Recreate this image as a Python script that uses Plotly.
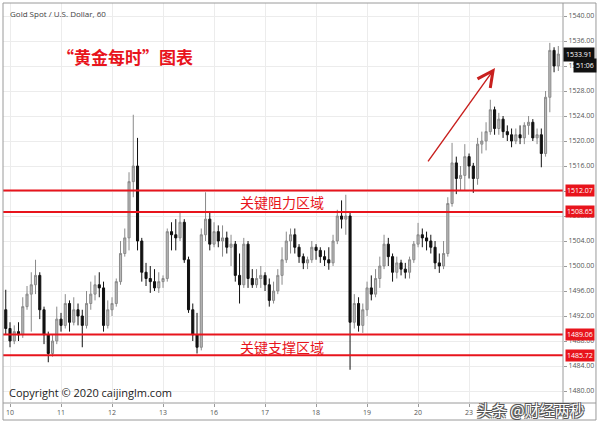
import plotly.graph_objects as go

# 2-hour bars, index 0 = start of day "10"
bar_start = -1
opens = [1493, 1490, 1488, 1489.5, 1489, 1493.5, 1495.5, 1497, 1498.5, 1493, 1489,
         1486, 1488, 1491.5, 1490.5, 1494, 1491, 1493, 1492, 1490.5, 1494, 1495.5,
         1497, 1496.5, 1490.5, 1493, 1494, 1497.5, 1502, 1504.5, 1513.5, 1516, 1504,
         1499, 1498, 1497.5, 1496.5, 1497.5, 1498, 1505.5, 1505, 1504.5, 1507, 1501,
         1493, 1489, 1487, 1505, 1507.5, 1503.5, 1505.5, 1504, 1504.5, 1503, 1503.5,
         1498.5, 1497, 1503.5, 1498, 1497, 1498, 1498.5, 1497, 1494.5, 1496, 1498.5,
         1501, 1504, 1505, 1503, 1501.5, 1500.5, 1501, 1503, 1502.5, 1501.5, 1501,
         1500.5, 1504, 1508, 1507.5, 1508, 1491, 1494, 1490.5, 1493, 1496.5, 1495.5,
         1498, 1500, 1503.5, 1501.5, 1499, 1500.5, 1499.5, 1499, 1501, 1503.5, 1505,
         1504.5, 1504, 1503, 1500.5, 1500, 1502, 1510, 1516.5, 1514, 1514.5, 1517.5,
         1516, 1514, 1519.5, 1520, 1521.5, 1525, 1522, 1523.5, 1521.5, 1521, 1520,
         1521, 1520.5, 1522.5, 1523, 1520.5, 1521, 1518, 1527, 1534.5, 1532]
closes = [1490, 1488, 1489.5, 1489, 1493.5, 1495.5, 1497, 1498.5, 1493, 1489, 1486,
          1488, 1491.5, 1490.5, 1494, 1491, 1493, 1492, 1490.5, 1494, 1495.5, 1497,
          1496.5, 1490.5, 1493, 1494, 1497.5, 1502, 1504.5, 1513.5, 1516, 1504, 1499,
          1498, 1497.5, 1496.5, 1497.5, 1498, 1505.5, 1505, 1504.5, 1507, 1501, 1493,
          1489, 1487, 1505, 1507.5, 1503.5, 1505.5, 1504, 1504.5, 1503, 1503.5, 1498.5,
          1497, 1503.5, 1498, 1497, 1498, 1498.5, 1497, 1494.5, 1496, 1498.5, 1501,
          1504, 1505, 1503, 1501.5, 1500.5, 1501, 1503, 1502.5, 1501.5, 1501, 1500.5,
          1504, 1508, 1507.5, 1508, 1491, 1494, 1490.5, 1493, 1496.5, 1495.5, 1498,
          1500, 1503.5, 1501.5, 1499, 1500.5, 1499.5, 1499, 1501, 1503.5, 1505, 1504.5,
          1504, 1503, 1500.5, 1500, 1502, 1510, 1516.5, 1514, 1514.5, 1517.5, 1516,
          1514, 1519.5, 1520, 1521.5, 1525, 1522, 1523.5, 1521.5, 1521, 1520, 1521,
          1520.5, 1522.5, 1523, 1520.5, 1521, 1518, 1527, 1534.5, 1532, 1533.91]
highs = [1496.2, 1491, 1490.5, 1491, 1495, 1496.8, 1499, 1501, 1499, 1493.5, 1489.5,
         1489, 1493.5, 1492.5, 1495.5, 1494.5, 1495, 1494, 1493, 1496, 1497.5, 1498.5,
         1499, 1497.5, 1494.5, 1495, 1498, 1504, 1506, 1515, 1524.2, 1520.5, 1504.5,
         1500.5, 1500, 1499.5, 1499, 1498.5, 1506, 1507, 1507.5, 1508.6, 1507.5, 1501.5,
         1494, 1492.5, 1506, 1511.8, 1508.5, 1507, 1506.5, 1506.5, 1505.5, 1505, 1504,
         1502, 1504.5, 1504, 1499.5, 1499.5, 1500, 1499, 1498, 1497.5, 1499.5, 1503,
         1505.5, 1506, 1506, 1503.5, 1502, 1501.5, 1504, 1503.5, 1503, 1502.5, 1503,
         1505, 1509, 1510.5, 1511.4, 1508.5, 1495.5, 1495, 1494, 1497.5, 1498.5, 1499.5,
         1501.5, 1505, 1504.5, 1502, 1501.5, 1501, 1500.5, 1501.5, 1504, 1506.9, 1506,
         1505.5, 1505, 1504, 1502, 1504, 1511, 1519.7, 1517.5, 1516, 1519.5, 1518,
         1516.5, 1520.5, 1521.5, 1523, 1526.6, 1525.5, 1524.5, 1524, 1522.5, 1522, 1522,
         1522.5, 1523, 1524, 1523.5, 1522, 1522, 1528, 1535.7, 1535, 1535.2]
lows = [1489, 1487, 1487.5, 1488, 1488.5, 1493, 1489.5, 1495.5, 1491.5, 1487.5, 1484.6,
        1485.5, 1487.5, 1489.5, 1490, 1489.5, 1490.5, 1490.5, 1487, 1490, 1493, 1494.5,
        1495, 1489.5, 1490, 1492, 1493.5, 1497, 1501.5, 1502.5, 1511, 1502.5, 1497.5,
        1496.8, 1495.7, 1496, 1495.7, 1496.5, 1497.5, 1502.5, 1502.5, 1504, 1500.5,
        1492.5, 1488, 1486, 1486.5, 1504, 1502.5, 1503, 1503, 1501.5, 1502, 1500,
        1497.5, 1494, 1496.5, 1496.5, 1496.5, 1496.5, 1496.5, 1496, 1493.5, 1494,
        1495.5, 1497, 1500.5, 1502, 1502, 1500.5, 1499.5, 1499.5, 1500.5, 1501, 1500.5,
        1500, 1499.4, 1500, 1503.5, 1506, 1505, 1483.4, 1490, 1489.5, 1489.3, 1492,
        1494.5, 1495, 1496.5, 1499.5, 1500, 1497.5, 1498, 1498.5, 1498, 1498, 1500.5,
        1503, 1503, 1502.5, 1502, 1499.5, 1498.9, 1499.5, 1501.5, 1509.5, 1511.5, 1512,
        1512, 1514, 1511.7, 1513, 1518, 1518.5, 1521, 1521, 1521, 1520.5, 1520, 1519,
        1519.5, 1519.5, 1519.5, 1521, 1520, 1519.5, 1515.8, 1517.5, 1524.6, 1531, 1531.2]
bars = list(range(bar_start, bar_start + len(closes)))

day_labels = ["10", "11", "12", "13", "16", "17", "18", "19", "20", "23"]
bars_per_day = 12
price_ticks = list(range(1480, 1541, 4))

resistance = [1512.07, 1508.65]
support = [1489.06, 1485.72]
last_price = 1533.91
countdown = "51:06"

RED = "#e8141c"

fig = go.Figure()
fig.add_trace(go.Candlestick(
    x=bars, open=opens, high=highs, low=lows, close=closes,
    increasing=dict(line=dict(color="#8a8a8a", width=1), fillcolor="#b8b8b8"),
    decreasing=dict(line=dict(color="#111111", width=1), fillcolor="#111111"),
    whiskerwidth=0, showlegend=False, hoverinfo="skip"
))

# key levels
for lvl in resistance + support:
    fig.add_hline(y=lvl, line_color=RED, line_width=2)
    fig.add_annotation(x=1.004, xref="paper", y=lvl, yref="y", text=f"{lvl:.2f}",
                       showarrow=False, xanchor="left", yanchor="middle",
                       bgcolor=RED, borderpad=1,
                       font=dict(family="Open Sans", size=7, color="white"))

fig.add_annotation(x=1.0, xref="paper", y=last_price, yref="y", text=f"{last_price:.2f}",
                   showarrow=False, xanchor="left", yanchor="middle",
                   bgcolor="#111111", borderpad=2,
                   font=dict(family="Open Sans", size=7, color="white"))
fig.add_annotation(x=1.018, xref="paper", y=last_price - 1.75, yref="y", text=countdown,
                   showarrow=False, xanchor="left", yanchor="middle",
                   bgcolor="#111111", borderpad=2,
                   font=dict(family="Open Sans", size=7, color="white"))

# trend arrow
fig.add_annotation(x=114.1, y=1531.7, ax=98.1, ay=1516.5, xref="x", yref="y",
                   axref="x", ayref="y", text="", showarrow=True,
                   arrowhead=5, arrowsize=2.2, arrowwidth=1.4, arrowcolor="#c8201e")

# texts
fig.add_annotation(x=0.009, y=0.975, xref="paper", yref="paper",
                   text="Gold Spot / U.S. Dollar, 60", showarrow=False,
                   xanchor="left", yanchor="middle",
                   font=dict(family="Open Sans", size=8, color="#444444"))
fig.add_annotation(x=0.218, y=0.867, xref="paper", yref="paper",
                   text="“黄金每时”图表", showarrow=False,
                   xanchor="center", yanchor="middle",
                   font=dict(family="Noto Sans CJK SC", size=17, color=RED, weight="bold"))
fig.add_annotation(x=0.498, y=0.5025, xref="paper", yref="paper",
                   text="关键阻力区域", showarrow=False,
                   xanchor="center", yanchor="middle",
                   font=dict(family="Noto Sans CJK SC", size=14, color=RED))
fig.add_annotation(x=0.498, y=0.14, xref="paper", yref="paper",
                   text="关键支撑区域", showarrow=False,
                   xanchor="center", yanchor="middle",
                   font=dict(family="Noto Sans CJK SC", size=14, color=RED))
fig.add_annotation(x=0.007, y=0.0275, xref="paper", yref="paper",
                   text="Copyright © 2020 caijinglm.com", showarrow=False,
                   xanchor="left", yanchor="middle",
                   font=dict(family="Open Sans", size=11, color="#222222"))
fig.add_annotation(x=1.042, y=-0.017, xref="paper", yref="paper",
                   text="头条 @财经两秒", showarrow=False,
                   xanchor="right", yanchor="middle",
                   font=dict(family="Noto Sans CJK SC", size=15, color="white",
                             shadow="1px 1px 0 #555, -1px -1px 0 #555, 1px -1px 0 #555, -1px 1px 0 #555"))

# frame
frame = dict(color="#9a9a9a", width=1)
fig.add_shape(type="rect", xref="paper", yref="paper", x0=0, x1=1.0589, y0=-0.0425, y1=1,
              line=frame, layer="above")
fig.add_shape(type="line", xref="paper", yref="paper", x0=0, x1=1.0589, y0=0, y1=0,
              line=frame, layer="above")
fig.add_shape(type="line", xref="paper", yref="paper", x0=1, x1=1, y0=-0.0425, y1=1,
              line=frame, layer="above")

fig.update_layout(
    width=600, height=424,
    margin=dict(l=3, r=37, t=3, b=21),
    paper_bgcolor="white", plot_bgcolor="white",
    showlegend=False,
    xaxis=dict(
        range=[-1.65, 130.1],
        tickvals=[k * bars_per_day for k in range(len(day_labels))],
        ticktext=day_labels,
        ticks="outside", ticklen=3, tickcolor="#9a9a9a",
        tickfont=dict(family="Open Sans", size=7, color="#555555"),
        showgrid=True, gridcolor="#ececec", gridwidth=1,
        zeroline=False, showline=False,
        rangeslider=dict(visible=False),
    ),
    yaxis=dict(
        side="right",
        range=[1478.08, 1542.08],
        tickvals=price_ticks,
        tickformat=".2f",
        ticks="outside", ticklen=3, tickcolor="#9a9a9a",
        tickfont=dict(family="Open Sans", size=7, color="#555555"),
        showgrid=True, gridcolor="#ececec", gridwidth=1,
        zeroline=False, showline=False,
    ),
)

fig.write_html("out.html", config={"displayModeBar": False},
               post_script="document.body.style.margin='0';")
